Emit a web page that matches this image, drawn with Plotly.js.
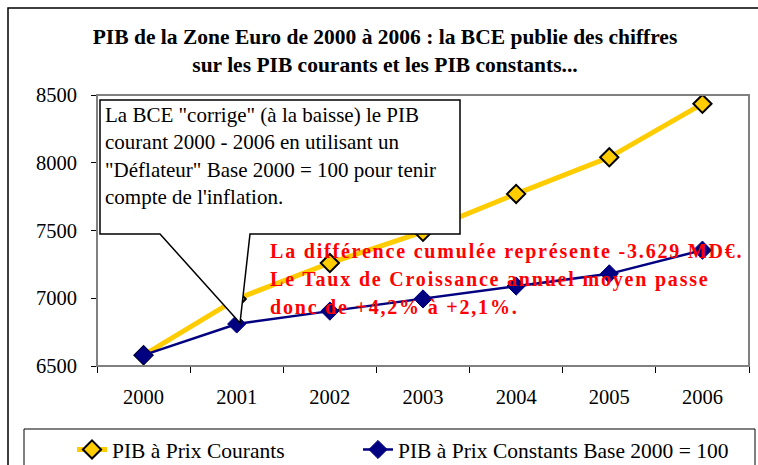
<!DOCTYPE html>
<html>
<head>
<meta charset="utf-8">
<script src="https://cdn.plot.ly/plotly-3.0.1.min.js"></script>
<style>html,body{margin:0;padding:0;background:#fff;}#chart{width:758px;height:465px;}</style>
</head>
<body>
<div id="chart"></div>
<script>
const years = ['2000', '2001', '2002', '2003', '2004', '2005', '2006'];
const pibCourants = [6580, 6995, 7260, 7490, 7770, 8040, 8435];
const pibConstants = [6580, 6810, 6905, 6995, 7090, 7180, 7355];
const seriesNames = ['PIB à Prix Courants', 'PIB à Prix Constants Base 2000 = 100'];
const titleText = 'PIB de la Zone Euro de 2000 à 2006 : la BCE publie des chiffres<br>sur les PIB courants et les PIB constants...';
const calloutLines = [
  'La BCE "corrige" (à la baisse) le PIB',
  'courant 2000 - 2006 en utilisant un',
  '"Déflateur" Base 2000 = 100 pour tenir',
  "compte de l'inflation."
];
const noteLines = [
  'La différence cumulée représente -3.629 MD€.',
  'Le Taux de Croissance annuel moyen passe',
  'donc de +4,2% à +2,1%.'
];

const W = 758, H = 465;
const L = 97, R = 9, T = 95, B = 99;
const pw = W - L - R, ph = H - T - B;
const px = v => (v - L) / pw;
const py = v => (H - B - v) / ph;

const serif = 'Liberation Serif, Times New Roman, serif';
const fs = 20.5;

const traces = [
  {
    x: years, y: pibCourants, name: seriesNames[0], type: 'scatter', mode: 'lines+markers',
    legend: 'legend',
    line: {color: '#FFCC00', width: 5},
    marker: {symbol: 'diamond', size: 14, color: '#FFCC00', line: {color: '#000000', width: 2}}
  },
  {
    x: years, y: pibConstants, name: seriesNames[1], type: 'scatter', mode: 'lines+markers',
    legend: 'legend2',
    line: {color: '#000080', width: 2.5},
    marker: {symbol: 'diamond', size: 14, color: '#000080', line: {color: '#000080', width: 1}}
  }
];

const calloutPath = 'M' + px(100) + ',' + py(100) + ' L' + px(460) + ',' + py(100) +
  ' L' + px(460) + ',' + py(234) + ' L' + px(250) + ',' + py(234) +
  ' L' + px(240) + ',' + py(323) + ' L' + px(160) + ',' + py(234) +
  ' L' + px(100) + ',' + py(234) + ' Z';

const shapes = [
  {type: 'rect', xref: 'paper', yref: 'paper', x0: 0, x1: 1, y0: 0, y1: 1,
   line: {color: '#808080', width: 2}, layer: 'above'},
  {type: 'rect', xref: 'paper', yref: 'paper', x0: px(8), x1: px(780), y0: py(480), y1: py(8),
   line: {color: '#000000', width: 1.5}, layer: 'above'},
  {type: 'rect', xref: 'paper', yref: 'paper', x0: px(24), x1: px(755), y0: py(480), y1: py(429),
   line: {color: '#000000', width: 1}, layer: 'above'},
  {type: 'path', xref: 'paper', yref: 'paper', path: calloutPath,
   fillcolor: '#ffffff', line: {color: '#000000', width: 1.5}, layer: 'above'}
];

const calloutY = [115, 142, 170, 197];
const noteY = [251, 279, 307];
const annotations = [];
calloutLines.forEach((t, i) => annotations.push({
  xref: 'paper', yref: 'paper', x: px(103), y: py(calloutY[i]), xanchor: 'left', yanchor: 'middle',
  text: t, showarrow: false, font: {family: serif, size: 21, color: '#000000'}
}));
noteLines.forEach((t, i) => annotations.push({
  xref: 'paper', yref: 'paper', x: px(268), y: py(noteY[i]), xanchor: 'left', yanchor: 'middle',
  text: '<span style="letter-spacing:1.8px">' + t + '</span>', showarrow: false,
  font: {family: serif, size: 20, color: '#FF0000', weight: 'bold'}
}));

const legendBase = {
  orientation: 'h', xref: 'container', yref: 'container', xanchor: 'left',
  y: 1 - 429 / H, yanchor: 'top', bgcolor: 'rgba(0,0,0,0)', borderwidth: 0,
  font: {family: serif, size: 21.5, color: '#000000'}
};

const layout = {
  width: W, height: H,
  margin: {l: L, r: R, t: T, b: B, pad: 0},
  paper_bgcolor: '#ffffff', plot_bgcolor: '#ffffff',
  font: {family: serif, size: fs, color: '#000000'},
  title: {
    text: '<b>' + titleText + '</b>', xref: 'container', yref: 'container',
    x: 385 / W, xanchor: 'center', y: 1 - 44 / H, yanchor: 'middle',
    font: {family: serif, size: 21.5, color: '#000000'}
  },
  xaxis: {
    type: 'category', categoryarray: years, range: [-0.5, 6.5], tickson: 'boundaries',
    ticks: 'outside', ticklen: 6, tickcolor: '#000000', showline: true, linecolor: '#000000', linewidth: 1,
    showgrid: false, zeroline: false, ticklabelstandoff: 12, fixedrange: true,
    tickfont: {family: serif, size: fs, color: '#000000'}
  },
  yaxis: {
    range: [6500, 8500], tickvals: [6500, 7000, 7500, 8000, 8500], ticktext: ['6500', '7000', '7500', '8000', '8500'],
    ticks: 'outside', ticklen: 5, tickcolor: '#000000', showline: true, linecolor: '#000000', linewidth: 1,
    showgrid: false, zeroline: false, ticklabelstandoff: 10, fixedrange: true,
    tickfont: {family: serif, size: fs, color: '#000000'}
  },
  showlegend: true,
  legend: Object.assign({}, legendBase, {x: 72 / W}),
  legend2: Object.assign({}, legendBase, {x: 358 / W}),
  shapes: shapes,
  annotations: annotations
};

Plotly.newPlot('chart', traces, layout, {staticPlot: true, displayModeBar: false});
</script>
</body>
</html>
